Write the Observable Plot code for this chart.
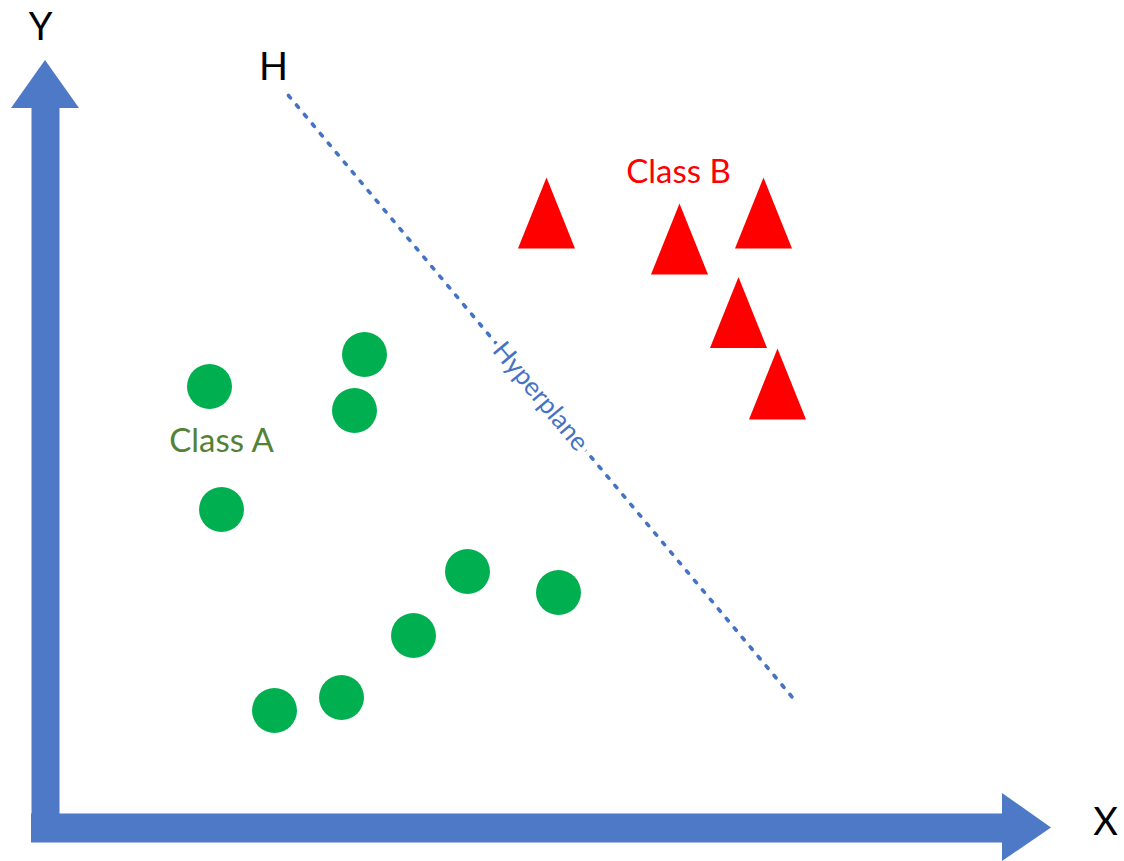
<!DOCTYPE html>
<html><head><meta charset="utf-8">
<script src="https://cdn.jsdelivr.net/npm/d3@7"></script>
<script src="https://cdn.jsdelivr.net/npm/@observablehq/plot@0.6"></script>
<style>html,body{margin:0;padding:0;background:#fff}svg{display:block}</style>
</head><body><div id="chart"></div>
<script>
// Data coordinates: origin at the inner corner of the axes
const classAX = [150, 305, 295, 162, 408, 499, 354, 282, 215];
const classAY = [427, 459, 403, 304, 242, 221, 178, 116, 103];
const classBX = [487, 620, 704, 679, 718];
const classBY = [600.5, 574.5, 600.5, 501, 429.5];
const hyperX = [229, 733];
const hyperY = [718, 116];
const labelNames = ["Class A", "Class B"];
const labelColors = ["#548235", "#FF0000"];
const labelX = [162, 619];
const labelY = [372, 641];
const axisNames = ["Y", "X", "H"];
const axisLabelX = [-19, 1046, 214];
const axisLabelY = [786, -9, 746];
const hyperLabel = "Hyperplane";
const hyperLabelX = 481;
const hyperLabelY = 417;
// axis arrow geometry
const yShaft = {x: -14, y1: -29, y2: 706};
const xShaft = {y: -14.5, x1: -28, x2: 943};
const yHead = [{y: 705, x1: -48, x2: 20}, {y: 753, x1: -14, x2: -14}];
const xHead = [{x: 943, y1: 20, y2: -48}, {x: 992, y1: -14.5, y2: -14.5}];

const blue = "#4E79C6";
const classA = classAX.map((x, i) => ({x, y: classAY[i]}));
const classB = classBX.map((x, i) => ({x, y: classBY[i]}));
const hyper = hyperX.map((x, i) => ({x, y: hyperY[i]}));
const labels = labelNames.map((name, i) => ({name, x: labelX[i], y: labelY[i], color: labelColors[i]}));
const axisLabels = axisNames.map((name, i) => ({name, x: axisLabelX[i], y: axisLabelY[i]}));
const angle = Math.atan2(hyperY[0] - hyperY[1], hyperX[1] - hyperX[0]) * 180 / Math.PI;

const tallTriangle = {
  draw(ctx, size) {
    const r = Math.sqrt(size / Math.PI);
    const w = r * 1.267, h = r * 1.578;
    ctx.moveTo(0, -h); ctx.lineTo(w, h); ctx.lineTo(-w, h); ctx.closePath();
  }
};

const chart = Plot.plot({
  width: 1124, height: 861,
  margin: 0,
  x: {domain: [-59, 1065], axis: null},
  y: {domain: [-48, 813], axis: null},
  style: {fontFamily: "Lato, sans-serif", background: "white"},
  marks: [
    Plot.ruleX([yShaft.x], {y1: yShaft.y1, y2: yShaft.y2, stroke: blue, strokeWidth: 28}),
    Plot.ruleY([xShaft.y], {x1: xShaft.x1, x2: xShaft.x2, stroke: blue, strokeWidth: 29}),
    Plot.areaX(yHead, {y: "y", x1: "x1", x2: "x2", fill: blue}),
    Plot.areaY(xHead, {x: "x", y1: "y1", y2: "y2", fill: blue}),
    Plot.line(hyper, {x: "x", y: "y", stroke: "#4472C4", strokeWidth: 3.6, strokeDasharray: "3 9.4", strokeLinecap: "round"}),
    Plot.text([hyperLabel], {x: hyperLabelX, y: hyperLabelY, text: d => d, rotate: angle, fontSize: 26, fill: "#4472C4", stroke: "white", strokeWidth: 10}),
    Plot.dot(classA, {x: "x", y: "y", r: 22.5, fill: "#00B050", stroke: "none"}),
    Plot.dot(classB, {x: "x", y: "y", r: 22.5, symbol: tallTriangle, fill: "#FF0000", stroke: "none"}),
    Plot.text(labels, {x: "x", y: "y", text: "name", fontSize: 33, fill: "color"}),
    Plot.text(axisLabels, {x: "x", y: "y", text: "name", fontSize: 38, fill: "black"})
  ]
});
document.getElementById("chart").append(chart);
</script>
</body></html>
